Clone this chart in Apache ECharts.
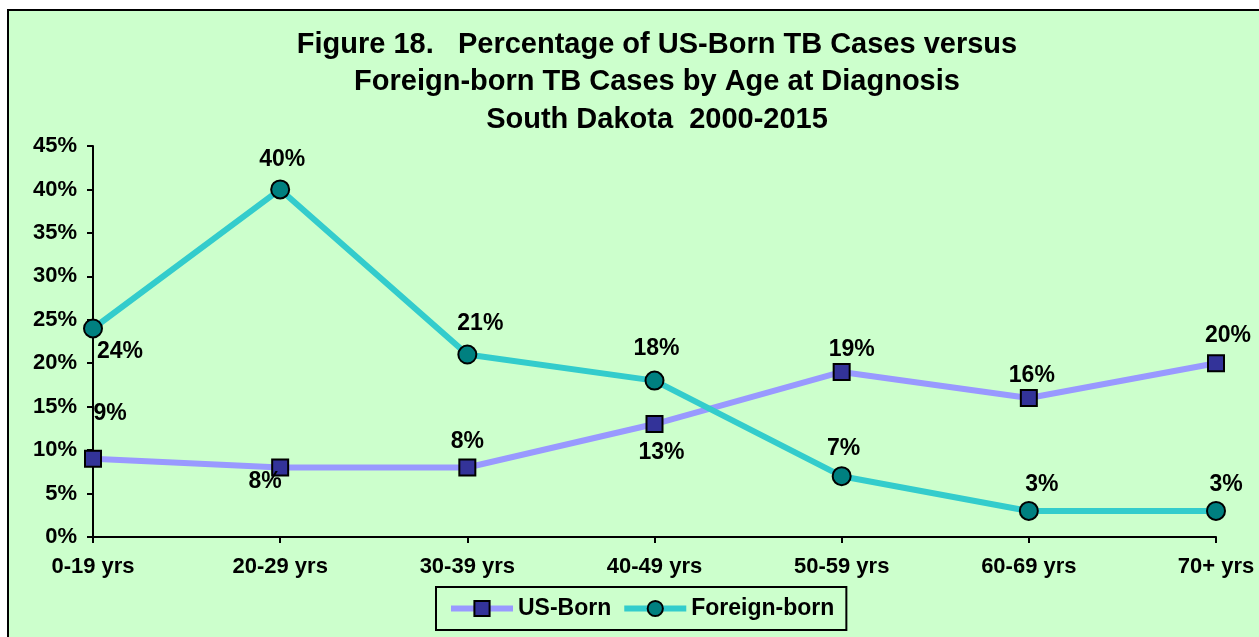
<!DOCTYPE html>
<html>
<head>
<meta charset="utf-8">
<script src="https://cdn.jsdelivr.net/npm/echarts@6/dist/echarts.min.js"></script>
<style>
  html, body { margin: 0; padding: 0; background: #fff; }
  #main { width: 1259px; height: 637px; }
</style>
</head>
<body>
<div id="main"></div>
<script>
var categories = ['0-19 yrs', '20-29 yrs', '30-39 yrs', '40-49 yrs', '50-59 yrs', '60-69 yrs', '70+ yrs'];
var usBorn = [9, 8, 8, 13, 19, 16, 20];
var foreignBorn = [24, 40, 21, 18, 7, 3, 3];
var yTicks = [0, 5, 10, 15, 20, 25, 30, 35, 40, 45];

// where each data label sits relative to its point (label centre offsets)
var usLabelOffsets = [[17, -45], [-15, 14], [0, -26], [7, 29], [10, -22], [3, -22], [12, -28]];
var fbLabelOffsets = [[27, 23], [2, -30], [13, -31], [2, -32], [2, -28], [13, -26], [10, -26]];

var font = 'Liberation Sans, Arial, sans-serif';

function withLabels(values, offsets) {
  return values.map(function (v, i) {
    return {
      value: v,
      label: { offset: offsets[i] }
    };
  });
}

var myChart = echarts.init(document.getElementById('main'));

var labelStyle = {
  show: true,
  position: 'inside',
  formatter: '{c}%',
  color: '#000',
  fontFamily: font,
  fontWeight: 'bold',
  fontSize: 23
};

option = {
  backgroundColor: '#fff',
  animation: false,
  graphic: [
    {
      type: 'rect',
      z: -10,
      shape: { x: 8, y: 10, width: 1262, height: 640 },
      style: { fill: '#CCFFCC', stroke: '#000', lineWidth: 2 }
    }
  ],
  title: {
    text: 'Figure 18.   Percentage of US-Born TB Cases versus\nForeign-born TB Cases by Age at Diagnosis\nSouth Dakota  2000-2015',
    left: 652,
    textAlign: 'center',
    top: 21,
    textStyle: {
      fontFamily: font,
      fontWeight: 'bold',
      fontSize: 29,
      lineHeight: 37.5,
      color: '#000'
    }
  },
  legend: {
    bottom: 7,
    left: 436,
    padding: [10, 12, 10, 12],
    borderColor: '#000',
    borderWidth: 2,
    itemWidth: 62,
    itemHeight: 19,
    itemGap: 10,
    lineStyle: { width: 6 },
    textStyle: {
      fontFamily: font,
      fontWeight: 'bold',
      fontSize: 23,
      color: '#000'
    },
    data: ['US-Born', 'Foreign-born']
  },
  grid: {
    left: 93,
    right: 43,
    top: 146,
    bottom: 100,
    containLabel: false
  },
  xAxis: {
    type: 'category',
    data: categories,
    boundaryGap: false,
    axisLine: { lineStyle: { color: '#000', width: 2 } },
    axisTick: { show: true, alignWithLabel: true, length: 6, lineStyle: { color: '#000', width: 2 } },
    axisLabel: {
      color: '#000',
      fontFamily: font,
      fontWeight: 'bold',
      fontSize: 22,
      margin: 19
    },
    splitLine: { show: false }
  },
  yAxis: {
    type: 'value',
    min: yTicks[0],
    max: yTicks[yTicks.length - 1],
    interval: 5,
    axisLine: { show: true, lineStyle: { color: '#000', width: 2 } },
    axisTick: { show: true, length: 6, lineStyle: { color: '#000', width: 2 } },
    axisLabel: {
      color: '#000',
      fontFamily: font,
      fontWeight: 'bold',
      fontSize: 22,
      margin: 16,
      formatter: '{value}%'
    },
    splitLine: { show: false }
  },
  series: [
    {
      name: 'US-Born',
      type: 'line',
      data: withLabels(usBorn, usLabelOffsets),
      symbol: 'rect',
      symbolSize: 16,
      lineStyle: { color: '#9999FF', width: 6 },
      itemStyle: { color: '#333399', borderColor: '#000', borderWidth: 2 },
      label: labelStyle,
      z: 2
    },
    {
      name: 'Foreign-born',
      type: 'line',
      data: withLabels(foreignBorn, fbLabelOffsets),
      symbol: 'circle',
      symbolSize: 18,
      lineStyle: { color: '#33CCCC', width: 6 },
      itemStyle: { color: '#008080', borderColor: '#000', borderWidth: 2 },
      label: labelStyle,
      z: 3
    }
  ]
};

myChart.setOption(option);
</script>
</body>
</html>
